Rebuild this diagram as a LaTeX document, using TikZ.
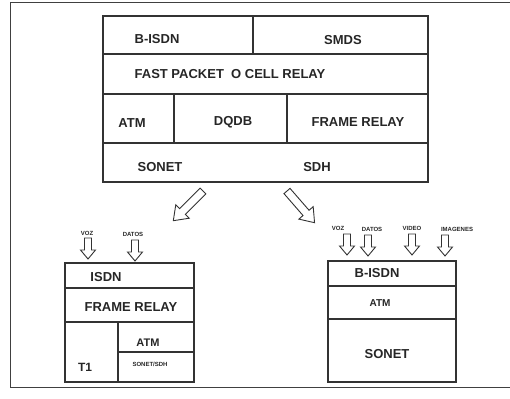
\documentclass[tikz,border=0pt]{standalone}
\usepackage{fontspec}
\setmainfont{Liberation Sans}

\begin{document}
\begin{tikzpicture}[x=1pt, y=-1pt,
  cell/.style={draw=black!80, line width=1.1pt},
  lbl/.style={font=\bfseries\fontsize{13}{15}\selectfont, inner sep=0pt, text=black!85},
  midlbl/.style={font=\bfseries\fontsize{10}{12}\selectfont, inner sep=0pt, text=black!85},
  tinylbl/.style={font=\bfseries\fontsize{6}{7}\selectfont, inner sep=0pt, text=black!85},
  hollow/.style={draw=black!80, line width=0.9pt, fill=white, line join=miter},
  downarr/.pic={\draw[hollow] (-3.5,0) -- (-3.5,12) -- (-7.5,12) -- (0,21)
    -- (7.5,12) -- (3.5,12) -- (3.5,0) -- cycle;},
  bigarr/.pic={\draw[hollow] (0,-4) -- (29,-4) -- (29,-9.5) -- (42,0)
    -- (29,9.5) -- (29,4) -- (0,4) -- cycle;}
]
\useasboundingbox (0,0) rectangle (510,398);
% outer frame
\draw[black!75, line width=1pt] (10,387) -- (10,3) -- (512,3);
\draw[black!75, line width=1pt] (10,387) -- (512,387);

% top stack
\draw[cell] (103,16) rectangle (428,182);
\draw[cell] (103,54) -- (428,54);
\draw[cell] (103,94) -- (428,94);
\draw[cell] (103,143) -- (428,143);
\draw[cell] (253,16) -- (253,54);
\draw[cell] (174,94) -- (174,143);
\draw[cell] (287,94) -- (287,143);
\node[lbl] (bisdn) at (157,39) {B-ISDN};
\node[lbl] (smds) at (343,40) {SMDS};
\node[lbl] (fastpkt) at (230,74) {FAST PACKET\ \ O CELL RELAY};
\node[lbl] (atm) at (132,123) {ATM};
\node[lbl] (dqdb) at (233,122) {DQDB};
\node[lbl] (frelay) at (358,122) {FRAME RELAY};
\node[lbl] (sonet) at (160,167) {SONET};
\node[lbl] (sdh) at (317,167) {SDH};

% split arrows
\pic[rotate=225] (toleft) at (203,191) {bigarr};
\pic[rotate=311] (toright) at (287,191) {bigarr};

% left stack
\draw[cell] (65,263) rectangle (194,382);
\draw[cell] (65,288) -- (194,288);
\draw[cell] (65,322) -- (194,322);
\draw[cell] (118,322) -- (118,382);
\draw[cell] (118,352) -- (194,352);
\node[lbl] (lisdn) at (106,277) {ISDN};
\node[lbl] (lfrelay) at (131,307) {FRAME RELAY};
\node[lbl, font=\bfseries\fontsize{11}{13}\selectfont] (latm) at (148,343) {ATM};
\node[lbl, font=\bfseries\fontsize{12}{14}\selectfont] (lt1) at (85,367) {T1};
\node[tinylbl] (lsmall) at (150,364) {SONET/SDH};
\node[tinylbl] (lvoz) at (87,233) {VOZ};
\node[tinylbl] (ldatos) at (133,234) {DATOS};
\pic (avoz) at (88,238) {downarr};
\pic (adatos) at (135,240) {downarr};

% right stack
\draw[cell] (328,261) rectangle (456,382);
\draw[cell] (328,286) -- (456,286);
\draw[cell] (328,319) -- (456,319);
\node[lbl] (rbisdn) at (377,273) {B-ISDN};
\node[midlbl] (ratm) at (380,303) {ATM};
\node[lbl] (rsonet) at (387,354) {SONET};
\node[tinylbl] (rvoz) at (338,228) {VOZ};
\node[tinylbl] (rdatos) at (372,229) {DATOS};
\node[tinylbl] (rvideo) at (412,228) {VIDEO};
\node[tinylbl] (rimag) at (457,229) {IMAGENES};
\pic (bvoz) at (347,234) {downarr};
\pic (bdatos) at (368,235) {downarr};
\pic (bvideo) at (412,234) {downarr};
\pic (bimag) at (445,235) {downarr};
\end{tikzpicture}
\end{document}
